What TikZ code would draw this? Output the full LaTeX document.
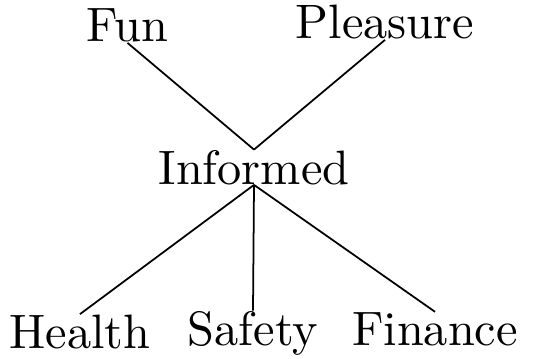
\documentclass[tikz,border=0pt]{standalone}
\usepackage{tikz}
\usepackage{graphicx}
\usetikzlibrary{positioning}

\newcommand{\bigword}[1]{\scalebox{2.75}{\fontsize{10}{12}\selectfont #1}}

\begin{document}
\begin{tikzpicture}[
    x=0.02cm, y=-0.02cm,
    word/.style={inner sep=0pt, anchor=base},
    link/.style={line width=1pt, black},
]
    \useasboundingbox (0,0) rectangle (540,358);

    % Goals at top
    \node[word] (fun) at (127.5,42) {\bigword{Fun}};
    \node[word] (pleasure) at (385,39) {\bigword{Pleasure}};

    % Centre
    \node[word] (informed) at (254,184) {\bigword{Informed}};

    % Areas below
    \node[word] (health) at (80,348) {\bigword{Health}};
    \node[word] (safety) at (253,345) {\bigword{Safety}};
    \node[word] (finance) at (435,345) {\bigword{Finance}};

    % Links
    \draw[link] (fun.south) -- (informed.north);
    \draw[link] (pleasure.south) -- (informed.north);
    \draw[link] (informed.south) -- (health.north);
    \draw[link] (informed.south) -- (safety.north);
    \draw[link] (informed.south) -- (finance.north);
\end{tikzpicture}
\end{document}
